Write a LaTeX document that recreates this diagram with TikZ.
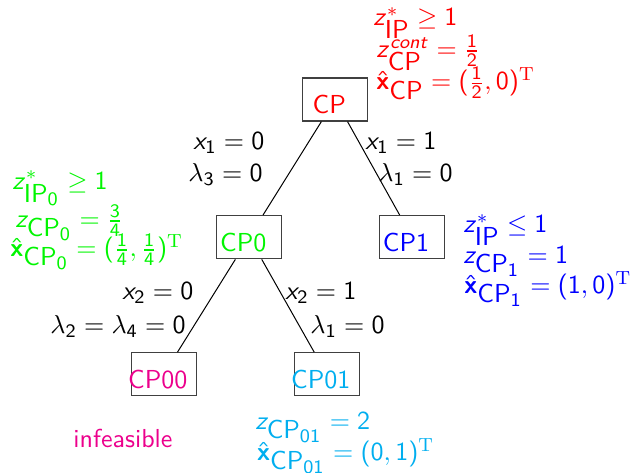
\documentclass[tikz,border=0pt]{standalone}
\usepackage{amsmath}
\DeclareSymbolFont{sfslanted}{OT1}{cmss}{m}{sl}
\SetSymbolFont{operators}{normal}{OT1}{cmss}{m}{n}
\SetMathAlphabet{\mathbf}{normal}{OT1}{cmss}{bx}{n}
\DeclareMathAlphabet{\mathserif}{OT1}{cmr}{m}{n}
\DeclareMathSymbol{x}{\mathalpha}{sfslanted}{`x}
\DeclareMathSymbol{z}{\mathalpha}{sfslanted}{`z}
\DeclareMathSymbol{c}{\mathalpha}{sfslanted}{`c}
\DeclareMathSymbol{o}{\mathalpha}{sfslanted}{`o}
\DeclareMathSymbol{n}{\mathalpha}{sfslanted}{`n}
\DeclareMathSymbol{t}{\mathalpha}{sfslanted}{`t}
\DeclareMathSizes{10.95}{10.95}{8}{6}
\definecolor{cpred}{RGB}{255,0,0}
\definecolor{cpgreen}{RGB}{0,245,0}
\definecolor{cpblue}{RGB}{0,0,255}
\definecolor{cpmag}{RGB}{236,0,140}
\definecolor{cpcyan}{RGB}{0,174,239}
\tikzset{
  box/.style={draw=black!75, line width=0.55pt, minimum width=27.38pt, minimum height=18.11pt, inner sep=0pt},
  boxtext/.style={inner sep=0pt, anchor=base, font=\fontsize{10.95}{13}\selectfont\sffamily},
  lbl/.style={inner sep=0pt, anchor=base west, font=\fontsize{10.95}{13}\selectfont\sffamily},
  edge/.style={draw=black, line width=0.42pt}
}
\begin{document}
\begin{tikzpicture}[x=0.4212pt,y=-0.4212pt]
\useasboundingbox (0,0) rectangle (631,473);
% boxes
\node[box] (CP)   at (335.2,99.5) {};
\node[box] (CP0)  at (249.2,237.2) {};
\node[box] (CP1)  at (412,237.2) {};
\node[box] (CP00) at (163.7,374.3) {};
\node[box] (CP01) at (326.7,374.3) {};
% box texts
\node[boxtext, cpred]   (tCP)   at ([xshift=-2.5pt,yshift=-5.9pt]CP.center) {CP};
\node[boxtext, cpgreen] (tCP0)  at ([xshift=-2.5pt,yshift=-5.9pt]CP0.center) {CP0};
\node[boxtext, cpblue]  (tCP1)  at ([xshift=-2.5pt,yshift=-5.9pt]CP1.center) {CP1};
\node[boxtext, cpmag]   (tCP00) at ([xshift=-2.5pt,yshift=-5.9pt]CP00.center) {CP00};
\node[boxtext, cpcyan]  (tCP01) at ([xshift=-2.5pt,yshift=-5.9pt]CP01.center) {CP01};
% edges
\draw[edge] (CP) -- (CP0);
\draw[edge] (CP) -- (CP1);
\draw[edge] (CP0) -- (CP00);
\draw[edge] (CP0) -- (CP01);
% edge labels
\node[lbl] (e1a) at (193,150) {$x_1 = 0$};
\node[lbl] (e1b) at (188,181.7) {$\lambda_3 = 0$};
\node[lbl] (e2a) at (365,150) {$x_1 = 1$};
\node[lbl] (e2b) at (378,181.7) {$\lambda_1 = 0$};
\node[lbl] (e3a) at (122,300) {$x_2 = 0$};
\node[lbl] (e3b) at (50,333.3) {$\lambda_2 = \lambda_4 = 0$};
\node[lbl] (e4a) at (285,300) {$x_2 = 1$};
\node[lbl] (e4b) at (310,333.3) {$\lambda_1 = 0$};
% red info
\node[lbl, cpred] (r1) at (373,26) {$z^*_{\mbox{IP}} \geq 1$};
\node[lbl, cpred] (r2) at (376,57.5) {$z^{cont}_{\mbox{CP}} = \frac{1}{2}$};
\node[lbl, cpred] (r3) at (376,90) {$\hat{\mathbf{x}}_{\mbox{CP}} = (\frac{1}{2},0)^{\mathserif{T}}$};
% green info
\node[lbl, cpgreen] (g1) at (12,189.3) {$z^*_{\mbox{IP$_0$}} \geq 1$};
\node[lbl, cpgreen] (g2) at (15,227.5) {$z_{\mbox{CP$_0$}} = \frac{3}{4}$};
\node[lbl, cpgreen] (g3) at (10,256.5) {$\hat{\mathbf{x}}_{\mbox{CP$_0$}} = (\frac{1}{4},\frac{1}{4})^{\mathserif{T}}$};
% blue info
\node[lbl, cpblue] (b1) at (463,232.7) {$z^*_{\mbox{IP}} \leq 1$};
\node[lbl, cpblue] (b2) at (463,263.3) {$z_{\mbox{CP$_1$}} = 1$};
\node[lbl, cpblue] (b3) at (464,293.5) {$\hat{\mathbf{x}}_{\mbox{CP$_1$}} = (1,0)^{\mathserif{T}}$};
% cyan info
\node[lbl, cpcyan] (c1) at (255,429.5) {$z_{\mbox{CP$_{01}$}} = 2$};
\node[lbl, cpcyan] (c2) at (256.7,460.5) {$\hat{\mathbf{x}}_{\mbox{CP$_{01}$}} = (0,1)^{\mathserif{T}}$};
% magenta
\node[lbl, cpmag] (m1) at (73,448) {infeasible};
\end{tikzpicture}
\end{document}
